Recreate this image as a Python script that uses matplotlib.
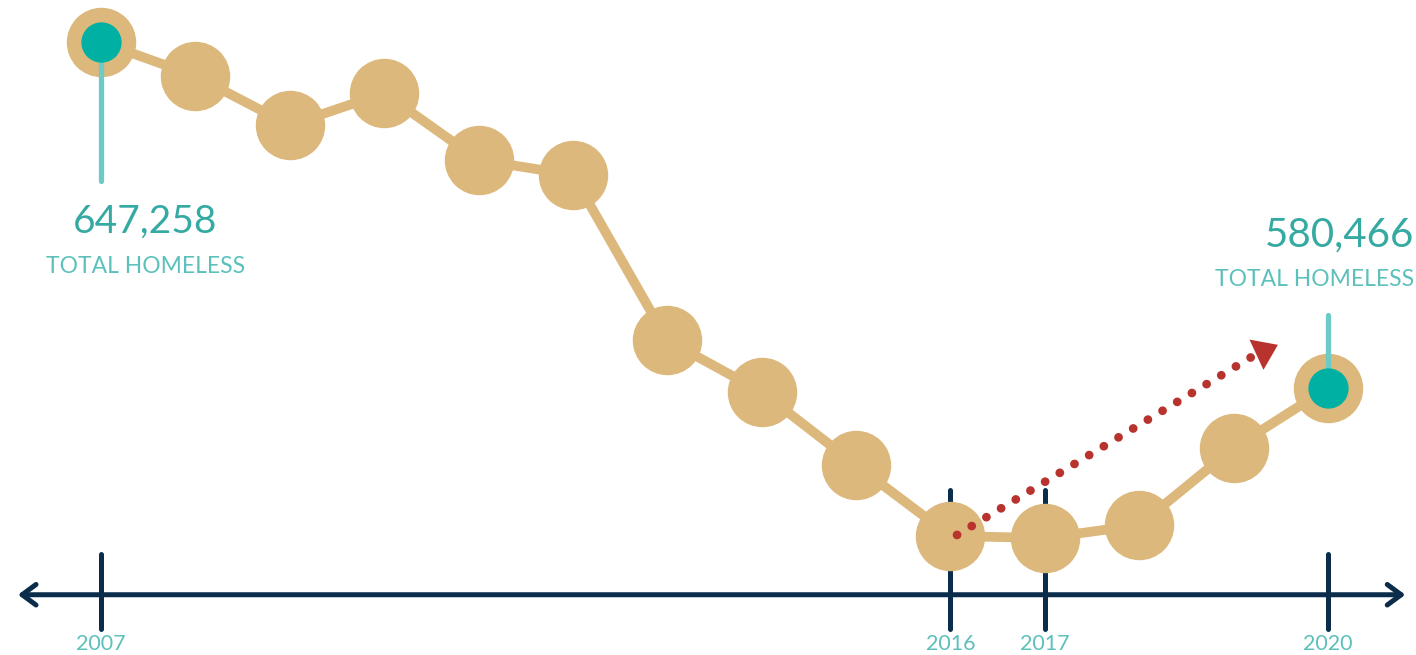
import matplotlib.pyplot as plt

# homeless counts (ends are labelled)
years = [2007, 2008, 2009, 2010, 2011, 2012, 2013, 2014, 2015, 2016, 2017, 2018, 2019, 2020]
total_homeless = [647258, 640700, 631200, 637400, 624500, 621600, 589700,
                  579700, 565600, 551900, 551500, 554000, 568900, 580466]
tick_years = [2007, 2016, 2017, 2020]
tick_labels = ["2007", "2016", "2017", "2020"]

TAN = "#dcb87c"
NAVY = "#0b2d4b"
RED = "#b8332e"
TEAL = "#00b0a2"
STEM = "#6dcbc7"
NUM_TEXT = "#35aaa2"
SUB_TEXT = "#5cc0bb"
FONT = ["Lato", "DejaVu Sans"]


def draw_timeline(ax):
    trans = ax.get_xaxis_transform()  # x in years, y in axes fraction
    ax.annotate("", xy=(2006.12, 0.092), xytext=(2020.82, 0.092), xycoords=trans,
                arrowprops=dict(arrowstyle="<->,head_length=0.5,head_width=0.37",
                                color=NAVY, lw=3.6, mutation_scale=20,
                                shrinkA=0, shrinkB=0), zorder=1)
    for yr, lab in zip(tick_years, tick_labels):
        # 2016 and 2017 ticks run up behind the circles
        top = 0.252 if yr in (2016, 2017) else 0.154
        ax.plot([yr, yr], [0.04, top], transform=trans, color=NAVY, lw=3.6,
                solid_capstyle="round", zorder=1)
        ax.text(yr, 0.008, lab, transform=trans, ha="center", va="baseline",
                fontsize=15.5, color=SUB_TEXT, family=FONT)


def draw_series(ax):
    ax.plot(years, total_homeless, color=TAN, lw=7, zorder=2)
    ax.plot(years, total_homeless, "o", color=TAN, ms=50, mec="none", zorder=3)

    # highlight the two labelled ends
    ends_x = [years[0], years[-1]]
    ends_y = [total_homeless[0], total_homeless[-1]]
    ax.plot([years[0], years[0]], [total_homeless[0], total_homeless[0] - 26800],
            color=STEM, lw=3.8, solid_capstyle="round", zorder=4)
    ax.plot([years[-1], years[-1]], [total_homeless[-1], total_homeless[-1] + 14100],
            color=STEM, lw=3.8, solid_capstyle="round", zorder=4)
    ax.plot(ends_x, ends_y, "o", color=TEAL, ms=29, mec="none", zorder=5)


def draw_trend_arrow(ax):
    start = (years[9] + 0.07, total_homeless[9] + 200)
    last_dot = (2019.19, 586450)
    tip = (2019.47, 588800)
    ax.plot([start[0], last_dot[0]], [start[1], last_dot[1]], color=RED, lw=6.3,
            linestyle=(0, (0.01, 1.95)), dash_capstyle="round", zorder=6)
    ax.annotate("", xy=tip, xytext=last_dot,
                arrowprops=dict(arrowstyle="-|>,head_length=0.85,head_width=0.6",
                                color=RED, lw=0, mutation_scale=20,
                                shrinkA=0, shrinkB=0), zorder=6)


def draw_labels(ax):
    ax.text(2007.47, 610400, "647,258", ha="center", va="baseline",
            fontsize=28, color=NUM_TEXT, family=FONT)
    ax.text(2007.47, 602700, "TOTAL HOMELESS", ha="center", va="baseline",
            fontsize=16.5, color=SUB_TEXT, family=FONT)
    ax.text(2020.91, 607700, "580,466", ha="right", va="baseline",
            fontsize=29, color=NUM_TEXT, family=FONT)
    ax.text(2020.91, 600150, "TOTAL HOMELESS", ha="right", va="baseline",
            fontsize=16.5, color=SUB_TEXT, family=FONT)


def main():
    fig = plt.figure(figsize=(14.16, 6.55), dpi=100)
    ax = fig.add_axes([0, 0, 1, 1])
    ax.set_xlim(2005.93, 2020.933)
    ax.set_ylim(528924, 655366)
    ax.axis("off")

    draw_timeline(ax)
    draw_series(ax)
    draw_trend_arrow(ax)
    draw_labels(ax)

    fig.savefig("out.png", dpi=100, facecolor="white")


if __name__ == "__main__":
    main()
